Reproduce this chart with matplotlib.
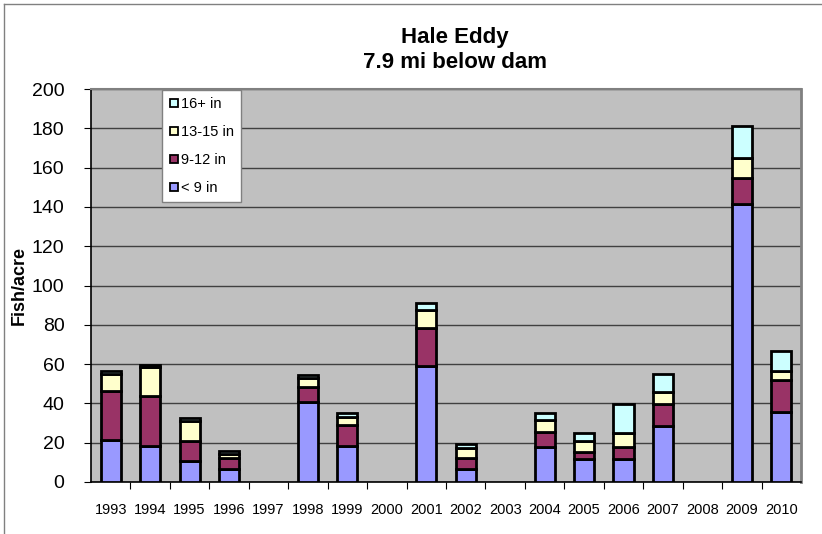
import numpy as np
import matplotlib.pyplot as plt
from matplotlib.lines import Line2D

plt.rcParams['font.family'] = ['Liberation Sans', 'DejaVu Sans']

years = ['1993', '1994', '1995', '1996', '1997', '1998', '1999', '2000', '2001',
         '2002', '2003', '2004', '2005', '2006', '2007', '2008', '2009', '2010']
under9 = [21.4, 18.5, 10.8, 6.6, 0, 40.5, 18.5, 0, 59.0,
          6.8, 0, 18.0, 11.9, 11.9, 28.5, 0, 141.5, 35.8]
in9_12 = [25.1, 25.4, 10.2, 5.4, 0, 8.0, 10.5, 0, 19.2,
          5.4, 0, 7.3, 3.2, 5.8, 11.0, 0, 13.0, 16.1]
in13_15 = [8.5, 14.8, 10.2, 2.2, 0, 4.3, 4.0, 0, 9.3,
           4.9, 0, 6.1, 5.6, 7.1, 6.5, 0, 10.2, 4.7]
in16 = [1.6, 0.8, 1.2, 1.7, 0, 1.7, 2.3, 0, 3.7,
        2.1, 0, 3.7, 4.1, 14.9, 9.0, 0, 16.5, 10.2]

series = [('< 9 in', under9, '#9999FF'),
          ('9-12 in', in9_12, '#993366'),
          ('13-15 in', in13_15, '#FFFFCC'),
          ('16+ in', in16, '#CCFFFF')]

fig = plt.figure(figsize=(8.22, 5.34), dpi=100)
ax = fig.add_axes([91 / 822, 52 / 534, 710 / 822, 393 / 534])
ax.set_facecolor('#C0C0C0')

x = np.arange(len(years))
bottom = np.zeros(len(years))
for label, vals, color in series:
    vals = np.array(vals)
    mask = vals > 0
    ax.bar(x[mask], vals[mask], 0.51, bottom=bottom[mask], color=color,
           edgecolor='black', linewidth=2, label=label, zorder=3)
    bottom += vals

ax.set_xlim(-0.5, len(years) - 0.5)
ax.set_ylim(0, 200)
ax.set_yticks(np.arange(0, 201, 20))
ax.yaxis.grid(True, color='#404040', linewidth=1, zorder=0)
ax.set_axisbelow(True)

ax.set_xticks(x)
ax.set_xticklabels(years, fontsize=10.5,
                   family=['Liberation Sans Narrow', 'Liberation Sans', 'DejaVu Sans'])
ax.set_xticks(np.arange(0.5, len(years) - 0.5, 1), minor=True)
ax.tick_params(axis='x', which='major', length=0, pad=15)
ax.tick_params(axis='x', which='minor', length=5, width=0.8, direction='out')
ax.tick_params(axis='y', length=5, width=0.8, pad=14, labelsize=14)

for s in ['left', 'bottom']:
    ax.spines[s].set_color('black')
    ax.spines[s].set_linewidth(1.2)
ax.spines['top'].set_color('#808080')
ax.spines['top'].set_linewidth(1.5)
ax.spines['right'].set_color('#808080')
ax.spines['right'].set_linewidth(2)

ax.set_ylabel('Fish/acre', fontsize=13, fontweight='bold', labelpad=3)

proxies = [Line2D([], [], marker='s', linestyle='none', markersize=6,
                  markerfacecolor=c, markeredgecolor='black', markeredgewidth=1.3)
           for _, _, c in series]
leg = ax.legend(proxies[::-1], [s[0] for s in series][::-1], loc='upper left',
                bbox_to_anchor=(0.1, 0.998), fontsize=10.5, frameon=True,
                fancybox=False, edgecolor='#808080', framealpha=1,
                handlelength=0.6, handletextpad=0.2, labelspacing=0.95,
                borderpad=0.5, borderaxespad=0)
leg.get_frame().set_linewidth(1)

fig.text(455 / 822, 1 - 38 / 534, 'Hale Eddy', ha='center', va='center',
         fontsize=16, fontweight='bold')
fig.text(455 / 822, 1 - 63 / 534, '7.9 mi below dam', ha='center', va='center',
         fontsize=16, fontweight='bold')

# outer chart frame (top and left edges visible)
fig.add_artist(Line2D([4 / 822, 1], [1 - 4 / 534, 1 - 4 / 534], color='#808080', linewidth=1))
fig.add_artist(Line2D([4 / 822, 4 / 822], [0, 1 - 4 / 534], color='#808080', linewidth=1))

fig.savefig('out.png', dpi=100)
